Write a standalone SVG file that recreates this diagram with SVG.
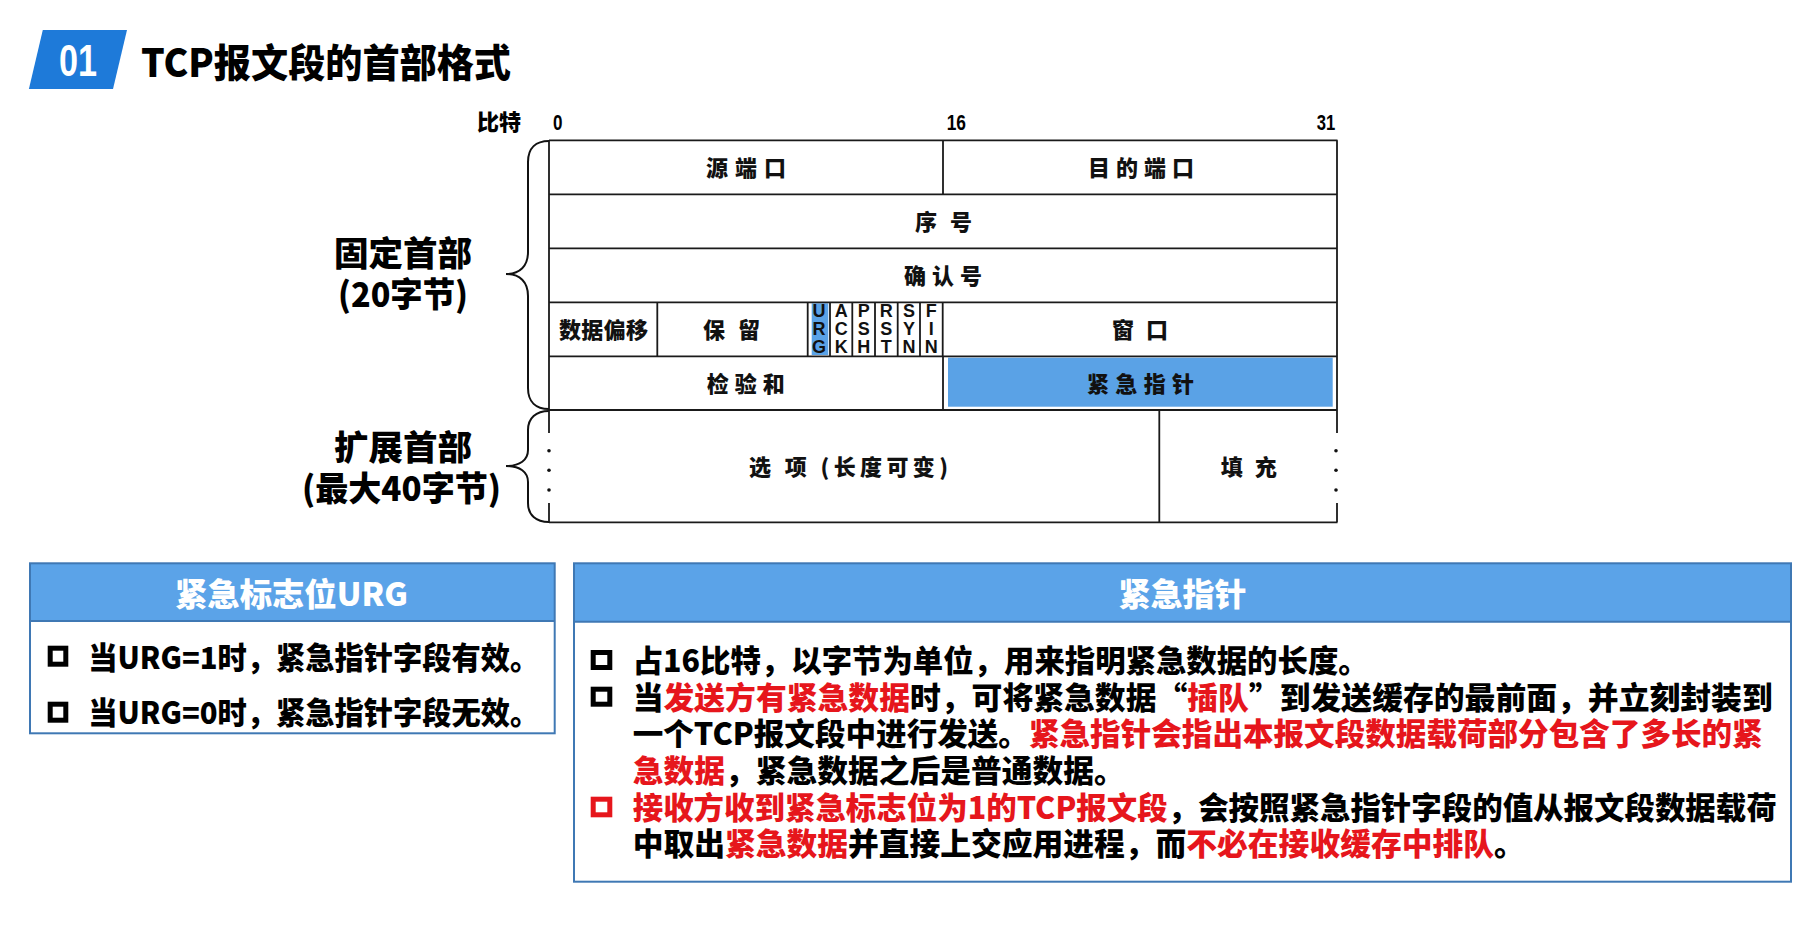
<svg xmlns="http://www.w3.org/2000/svg" width="1812" height="936" viewBox="0 0 1812 936">
<style>
.cjk{font-family:'Noto Sans CJK SC','Noto Sans CJK JP',sans-serif;}
.lat{font-family:'Liberation Sans',Arial,sans-serif;font-weight:bold;}
.cell{font-family:'Noto Sans CJK SC','Noto Sans CJK JP',sans-serif;font-size:22px;font-weight:900;fill:#111;}
.big{font-family:'Noto Sans CJK SC','Noto Sans CJK JP',sans-serif;font-size:34px;font-weight:900;fill:#000;}
.flag{font-family:'Liberation Sans',Arial,sans-serif;font-weight:bold;font-size:18px;fill:#111;text-anchor:middle;}
.grid{stroke:#1a1a1a;stroke-width:1.8;fill:none;}
.body{font-family:'Noto Sans CJK SC','Noto Sans CJK JP',sans-serif;font-size:30.5px;font-weight:900;fill:#000;}
.red{fill:#E6161C;}
.hdr{fill:#5BA3E8;}
.hl{fill:#5AA2E6;}
.boxb{fill:none;stroke:#3F78B4;stroke-width:2;}
.bul{fill:none;stroke:#000;stroke-width:5;}
.bulr{fill:none;stroke:#E6161C;stroke-width:5;}
.htxt{font-family:'Noto Sans CJK SC','Noto Sans CJK JP',sans-serif;font-size:32px;font-weight:900;fill:#fff;}
</style>
<rect width="1812" height="936" fill="#fff"/>

<g id="title">
  <polygon points="42.8,30 127,30 113,89 28.9,89" fill="#1E7AD9"/>
  <text class="lat" x="59" y="76" font-size="45" fill="#fff" textLength="38" lengthAdjust="spacingAndGlyphs">01</text>
  <text class="cjk" x="141" y="76.5" font-size="39" font-weight="900" fill="#000" textLength="370" lengthAdjust="spacingAndGlyphs">TCP报文段的首部格式</text>
</g>

<g id="bit-scale">
  <text class="cjk" x="477" y="130" font-size="22" font-weight="900" textLength="44" lengthAdjust="spacingAndGlyphs">比特</text>
  <text class="lat" x="553" y="130" font-size="22" textLength="9.5" lengthAdjust="spacingAndGlyphs">0</text>
  <text class="lat" x="946.7" y="130" font-size="22" textLength="19.3" lengthAdjust="spacingAndGlyphs">16</text>
  <text class="lat" x="1316.7" y="130" font-size="22" textLength="18.5" lengthAdjust="spacingAndGlyphs">31</text>
</g>

<g id="label-fixed">
  <text class="big" x="334" y="266" textLength="138" lengthAdjust="spacingAndGlyphs">固定首部</text>
  <text class="big" x="338" y="307" textLength="130" lengthAdjust="spacingAndGlyphs">(20字节)</text>
</g>
<g id="label-ext">
  <text class="big" x="334" y="460" textLength="138" lengthAdjust="spacingAndGlyphs">扩展首部</text>
  <text class="big" x="302" y="501" textLength="199" lengthAdjust="spacingAndGlyphs">(最大40字节)</text>
</g>

<g id="connectors" fill="none" stroke="#111" stroke-width="2">
  <path d="M549,141 C536,141 528,148 528,162 L528,252 C528,266 520,274 506,274 C520,274 528,282 528,296 L528,388 C528,402 536,409 549,409"/>
  <path d="M549,411 C536,411 528,418 528,430 L528,450 C528,460 520,466 506,466 C520,466 528,472 528,482 L528,503 C528,515 536,522 549,522"/>
</g>

<g id="header-table">
  <rect class="hl" x="811.7" y="303.3" width="16.6" height="51.7"/>
  <rect class="hl" x="948" y="357.7" width="384.7" height="49"/>
  <path class="grid" d="M549,140.3 H1337.5 M549,194.3 H1337 M549,248.3 H1337 M549,302.3 H1337 M549,356.3 H1337 M549,410 H1337 M549,522.3 H1337.5
    M549,140.3 V433 M549,503 V522.3 M1337,140.3 V433 M1337,503 V522.3
    M943,140.3 V194.3 M943,356.3 V410 M1159.3,410 V522.3
    M657.3,302.3 V356.3 M807.7,302.3 V356.3 M830,302.3 V356.3 M852.3,302.3 V356.3 M875,302.3 V356.3 M897.7,302.3 V356.3 M920,302.3 V356.3 M942.7,302.3 V356.3"/>
  <g fill="#111">
    <circle cx="549" cy="450.7" r="1.8"/><circle cx="549" cy="470.3" r="1.8"/><circle cx="549" cy="490" r="1.8"/>
    <circle cx="1336" cy="450.7" r="1.8"/><circle cx="1336" cy="470.3" r="1.8"/><circle cx="1336" cy="490" r="1.8"/>
  </g>
</g>

<g id="field-src-port"><text class="cell" x="706" y="176" textLength="80" lengthAdjust="spacing">源端口</text></g>
<g id="field-dst-port"><text class="cell" x="1088" y="176" textLength="106" lengthAdjust="spacing">目的端口</text></g>
<g id="field-seq"><text class="cell" x="915" y="230" textLength="57" lengthAdjust="spacing">序 号</text></g>
<g id="field-ack"><text class="cell" x="904" y="284" textLength="78" lengthAdjust="spacing">确认号</text></g>
<g id="field-offset"><text class="cell" x="559" y="338" textLength="89" lengthAdjust="spacing">数据偏移</text></g>
<g id="field-reserved"><text class="cell" x="703" y="338" textLength="57" lengthAdjust="spacing">保 留</text></g>
<g id="field-flags">
  <text class="flag"><tspan x="818.9" y="317">U</tspan><tspan x="818.9" y="335">R</tspan><tspan x="818.9" y="353">G</tspan></text>
  <text class="flag"><tspan x="841.2" y="317">A</tspan><tspan x="841.2" y="335">C</tspan><tspan x="841.2" y="353">K</tspan></text>
  <text class="flag"><tspan x="863.7" y="317">P</tspan><tspan x="863.7" y="335">S</tspan><tspan x="863.7" y="353">H</tspan></text>
  <text class="flag"><tspan x="886.3" y="317">R</tspan><tspan x="886.3" y="335">S</tspan><tspan x="886.3" y="353">T</tspan></text>
  <text class="flag"><tspan x="908.9" y="317">S</tspan><tspan x="908.9" y="335">Y</tspan><tspan x="908.9" y="353">N</tspan></text>
  <text class="flag"><tspan x="931.3" y="317">F</tspan><tspan x="931.3" y="335">I</tspan><tspan x="931.3" y="353">N</tspan></text>
</g>
<g id="field-window"><text class="cell" x="1112" y="338" textLength="56" lengthAdjust="spacing">窗 口</text></g>
<g id="field-checksum"><text class="cell" x="706.7" y="392" textLength="78" lengthAdjust="spacing">检验和</text></g>
<g id="field-urgent-pointer"><text class="cell" x="1087" y="392" textLength="107" lengthAdjust="spacing">紧急指针</text></g>
<g id="field-options"><text class="cell" x="749" y="475" textLength="199" lengthAdjust="spacing">选 项 (长度可变)</text></g>
<g id="field-padding"><text class="cell" x="1220.7" y="475" textLength="56" lengthAdjust="spacing">填 充</text></g>

<g id="box-urg">
  <rect class="hdr" x="30" y="563.3" width="524.7" height="57.7"/>
  <rect class="boxb" x="30" y="563.3" width="524.7" height="170"/>
  <line x1="30" y1="621" x2="554.7" y2="621" stroke="#3F78B4" stroke-width="2"/>
  <text class="htxt" x="175" y="606" textLength="233" lengthAdjust="spacingAndGlyphs">紧急标志位URG</text>
  <rect class="bul" x="50.2" y="648.2" width="15.6" height="16"/>
  <text class="body" x="88.3" y="669" textLength="451" lengthAdjust="spacingAndGlyphs">当URG=1时，紧急指针字段有效。</text>
  <rect class="bul" x="50.2" y="704.2" width="15.6" height="16"/>
  <text class="body" x="88.3" y="724" textLength="451" lengthAdjust="spacingAndGlyphs">当URG=0时，紧急指针字段无效。</text>
</g>

<g id="box-urgent-pointer">
  <rect class="hdr" x="574" y="563.3" width="1217" height="58.4"/>
  <rect class="boxb" x="574" y="563.3" width="1217" height="318.4"/>
  <line x1="574" y1="621.7" x2="1791" y2="621.7" stroke="#3F78B4" stroke-width="2"/>
  <text class="htxt" x="1182.5" y="606" text-anchor="middle">紧急指针</text>
  <rect class="bul" x="593.2" y="652.5" width="16.6" height="15"/>
  <text class="body" x="632.7" y="672" textLength="736" lengthAdjust="spacingAndGlyphs">占16比特，以字节为单位，用来指明紧急数据的长度。</text>
  <rect class="bul" x="593.2" y="689.2" width="16.6" height="15"/>
  <text class="body" x="632.7" y="708.7" textLength="1140" lengthAdjust="spacingAndGlyphs">当<tspan class="red">发送方有紧急数据</tspan>时，可将紧急数据“<tspan class="red">插队</tspan>”到发送缓存的最前面，并立刻封装到</text>
  <text class="body" x="632.7" y="745.3" textLength="1130" lengthAdjust="spacingAndGlyphs">一个TCP报文段中进行发送。<tspan class="red">紧急指针会指出本报文段数据载荷部分包含了多长的紧</tspan></text>
  <text class="body" x="632.7" y="782" textLength="492" lengthAdjust="spacingAndGlyphs"><tspan class="red">急数据</tspan>，紧急数据之后是普通数据。</text>
  <rect class="bulr" x="593.2" y="799.2" width="16.6" height="15.6"/>
  <text class="body" x="632.7" y="818.7" textLength="1144" lengthAdjust="spacingAndGlyphs"><tspan class="red">接收方收到紧急标志位为1的TCP报文段</tspan>，会按照紧急指针字段的值从报文段数据载荷</text>
  <text class="body" x="632.7" y="855.3" textLength="892" lengthAdjust="spacingAndGlyphs">中取出<tspan class="red">紧急数据</tspan>并直接上交应用进程，而<tspan class="red">不必在接收缓存中排队</tspan>。</text>
</g>
</svg>
